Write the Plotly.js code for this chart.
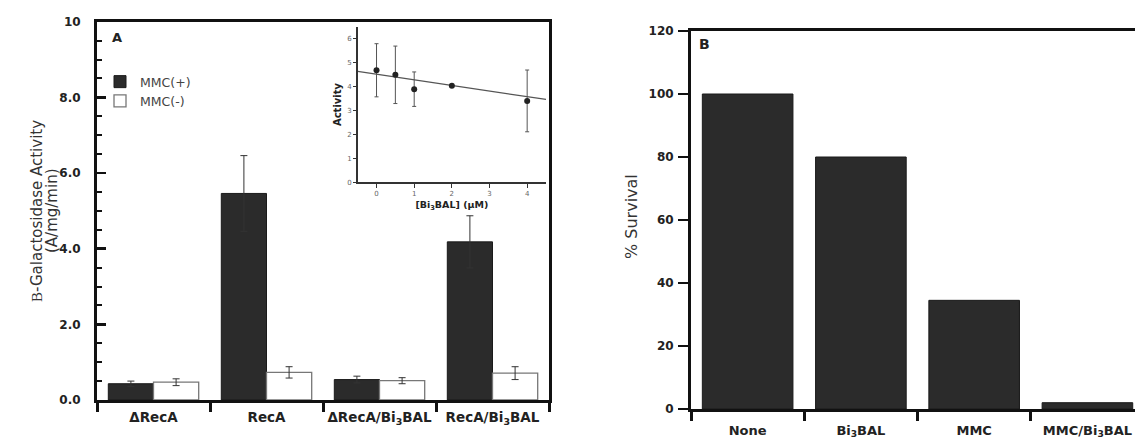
<!DOCTYPE html>
<html>
<head>
<meta charset="utf-8">
<script src="https://cdn.plot.ly/plotly-3.0.1.min.js"></script>
<style>html,body{margin:0;padding:0;background:#fff;}#chart{width:1135px;height:440px;}</style>
</head>
<body>
<div id="chart"></div>
<script>
// ---- Panel A data ----
var catsA = ['ΔRecA', 'RecA', 'ΔRecA/Bi<sub>3</sub>BAL', 'RecA/Bi<sub>3</sub>BAL'];
var mmcPlus = [0.43, 5.46, 0.54, 4.18];
var mmcPlusErr = [0.07, 1.00, 0.09, 0.69];
var mmcMinus = [0.47, 0.73, 0.51, 0.71];
var mmcMinusErr = [0.09, 0.15, 0.08, 0.17];
var yTickValsA = [0, 2, 4, 6, 8, 10];
var yTickTextA = ['0.0', '2.0', '4.0', '6.0', '8.0', '10'];

// ---- Inset data ----
var bi3Conc = [0, 0.5, 1, 2, 4];
var activity = [4.68, 4.49, 3.89, 4.03, 3.40];
var activityErr = [1.11, 1.20, 0.72, 0.05, 1.29];
var fitX = [-0.5, 4.5];
var fitY = [4.63, 3.46];

// ---- Panel B data ----
var catsB = ['None', 'Bi<sub>3</sub>BAL', 'MMC', 'MMC/Bi<sub>3</sub>BAL'];
var survival = [100, 80, 34.5, 2];

var FONT = 'DejaVu Sans';
var AX = '#111';

function boundaries(cats) {
  return cats.slice(0, -1).map(function (_, i) { return i + 0.5; });
}

var traces = [
  {
    type: 'bar', name: 'MMC(+)', x: catsA, y: mmcPlus,
    xaxis: 'x', yaxis: 'y',
    marker: {color: '#2b2b2b', line: {color: '#1a1a1a', width: 1}},
    error_y: {type: 'data', array: mmcPlusErr, visible: true, color: '#333', thickness: 1, width: 3.5}
  },
  {
    type: 'bar', name: 'MMC(-)', x: catsA, y: mmcMinus,
    xaxis: 'x', yaxis: 'y',
    marker: {color: '#ffffff', line: {color: '#777', width: 1.3}},
    error_y: {type: 'data', array: mmcMinusErr, visible: true, color: '#333', thickness: 1, width: 3.5}
  },
  {
    type: 'scatter', mode: 'lines', x: fitX, y: fitY,
    xaxis: 'x3', yaxis: 'y3', showlegend: false,
    line: {color: '#555', width: 1.2}
  },
  {
    type: 'scatter', mode: 'markers', x: bi3Conc, y: activity,
    xaxis: 'x3', yaxis: 'y3', showlegend: false,
    marker: {color: '#222', size: 6},
    error_y: {type: 'data', array: activityErr, visible: true, color: '#555', thickness: 1, width: 2}
  },
  {
    type: 'bar', x: catsB, y: survival,
    xaxis: 'x2', yaxis: 'y2', showlegend: false,
    marker: {color: '#2b2b2b', line: {color: '#1a1a1a', width: 1}}
  }
];

var W = 1135, H = 440;
function px(x) { return x / W; }
function py(y) { return (H - y) / H; }

var layout = {
  width: W, height: H,
  margin: {l: 0, r: 0, t: 0, b: 0},
  paper_bgcolor: '#fff', plot_bgcolor: 'rgba(0,0,0,0)',
  barmode: 'group', bargap: 0.2, bargroupgap: 0,
  font: {family: FONT, color: '#222'},
  showlegend: true,
  legend: {
    x: px(100), y: py(67), xanchor: 'left', yanchor: 'top',
    bgcolor: 'rgba(0,0,0,0)', borderwidth: 0,
    font: {family: FONT, size: 12.5, color: '#444'},
    tracegroupgap: 0
  },
  xaxis: {
    domain: [px(97), px(549)], anchor: 'y', type: 'category',
    range: [-0.5, 3.5],
    showline: true, linewidth: 3, linecolor: AX, mirror: true,
    ticks: 'outside', tickson: 'boundaries', ticklen: 9, tickwidth: 3, tickcolor: AX,
    tickangle: 0,
    tickfont: {family: FONT, size: 13.5, weight: 'bold', color: '#222'},
    ticklabelstandoff: 3,
    showgrid: false, zeroline: false, fixedrange: true
  },
  xaxis4: {
    overlaying: 'x', anchor: 'y', side: 'bottom', type: 'linear',
    range: [-0.5, 3.5], tickmode: 'array', tickvals: boundaries(catsA),
    ticks: 'inside', ticklen: 9, tickwidth: 3, tickcolor: AX,
    showticklabels: false, showline: false, showgrid: false, zeroline: false
  },
  yaxis: {
    domain: [py(400), py(21.7)], anchor: 'x',
    range: [0, 10], tickmode: 'array', tickvals: yTickValsA, ticktext: yTickTextA,
    ticks: 'inside', ticklen: 9, tickwidth: 2.5, tickcolor: AX,
    minor: {tickmode: 'linear', tick0: 0, dtick: 0.5, ticks: 'inside', ticklen: 5, tickwidth: 2, tickcolor: AX, showgrid: false},
    showline: true, linewidth: 3, linecolor: AX, mirror: true,
    tickfont: {family: FONT, size: 12, weight: 'bold', color: '#222'},
    ticklabelstandoff: 11,
    showgrid: false, zeroline: false, fixedrange: true
  },
  xaxis3: {
    domain: [px(357.7), px(546)], anchor: 'y3',
    range: [-0.5, 4.5], tickmode: 'array', tickvals: [0, 1, 2, 3, 4],
    ticks: 'outside', ticklen: 4, tickwidth: 1, tickcolor: '#333',
    showline: true, linewidth: 1.5, linecolor: '#333',
    tickangle: 0,
    tickfont: {family: FONT, size: 7, color: '#666'},
    title: {text: '[Bi<sub>3</sub>BAL] (μM)', font: {family: FONT, size: 9.5, weight: 'bold', color: '#222'}, standoff: 4},
    showgrid: false, zeroline: false, fixedrange: true
  },
  yaxis3: {
    domain: [py(182.3), py(26.7)], anchor: 'x3',
    range: [0, 6.5], dtick: 1,
    ticks: 'outside', ticklen: 3, tickwidth: 1, tickcolor: '#333',
    showline: true, linewidth: 1.5, linecolor: '#333',
    tickfont: {family: FONT, size: 7, color: '#666'},
    title: {text: 'Activity', font: {family: FONT, size: 10, weight: 'bold', color: '#222'}, standoff: 4},
    showgrid: false, zeroline: false, fixedrange: true
  },
  xaxis2: {
    domain: [px(691), 1], anchor: 'y2', type: 'category',
    range: [-0.5, 3.42],
    showline: true, linewidth: 3, linecolor: AX, mirror: true,
    ticks: 'outside', tickson: 'boundaries', ticklen: 9, tickwidth: 3, tickcolor: AX,
    tickangle: 0,
    tickfont: {family: FONT, size: 13, weight: 'bold', color: '#222'},
    ticklabelstandoff: 7,
    showgrid: false, zeroline: false, fixedrange: true
  },
  xaxis5: {
    overlaying: 'x2', anchor: 'y2', side: 'bottom', type: 'linear',
    range: [-0.5, 3.42], tickmode: 'array', tickvals: boundaries(catsB),
    ticks: 'inside', ticklen: 9, tickwidth: 3, tickcolor: AX,
    showticklabels: false, showline: false, showgrid: false, zeroline: false
  },
  yaxis2: {
    domain: [py(409), py(31)], anchor: 'x2',
    range: [0, 120], dtick: 20,
    ticks: 'outside', ticklen: 10, tickwidth: 2, tickcolor: AX,
    showline: true, linewidth: 3, linecolor: AX,
    tickfont: {family: FONT, size: 12, weight: 'bold', color: '#222'},
    ticklabelstandoff: 2,
    showgrid: false, zeroline: false, fixedrange: true
  },
  annotations: [
    {text: '<b>A</b>', xref: 'paper', yref: 'paper', x: px(117), y: py(38), xanchor: 'center', yanchor: 'middle', showarrow: false,
     font: {family: FONT, size: 13, color: '#222'}},
    {text: '<b>B</b>', xref: 'paper', yref: 'paper', x: px(704), y: py(44), xanchor: 'center', yanchor: 'middle', showarrow: false,
     font: {family: FONT, size: 14, color: '#222'}},
    {text: '<span style="font-family:Liberation Serif">B</span>-Galactosidase Activity', xref: 'paper', yref: 'paper',
     x: px(37), y: py(211), xanchor: 'center', yanchor: 'middle', textangle: -90, showarrow: false,
     font: {family: FONT, size: 15, color: '#333'}},
    {text: '(A/mg/min)', xref: 'paper', yref: 'paper',
     x: px(52), y: py(211), xanchor: 'center', yanchor: 'middle', textangle: -90, showarrow: false,
     font: {family: FONT, size: 15, color: '#333'}},
    {text: '% Survival', xref: 'paper', yref: 'paper',
     x: px(631), y: py(217), xanchor: 'center', yanchor: 'middle', textangle: -90, showarrow: false,
     font: {family: FONT, size: 16, color: '#333'}}
  ]
};

Plotly.newPlot('chart', traces, layout, {displayModeBar: false, staticPlot: true});
</script>
</body>
</html>
